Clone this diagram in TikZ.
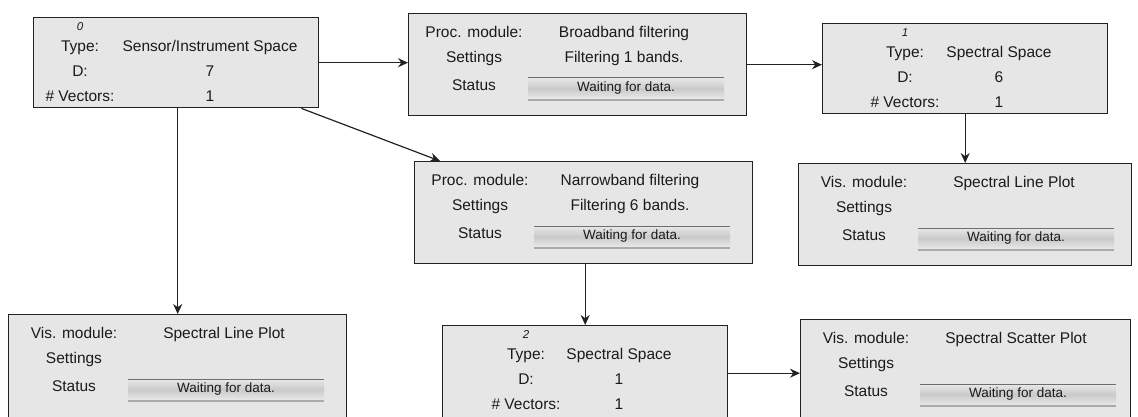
\documentclass[tikz,border=0pt]{standalone}
\usepackage{fontspec}
\setmainfont{Liberation Sans}
\usetikzlibrary{calc, arrows.meta}

\definecolor{boxfill}{HTML}{E6E6E6}
\definecolor{boxline}{HTML}{222222}
\definecolor{ink}{HTML}{1A1A1A}
\definecolor{barlight}{HTML}{E2E2E2}
\definecolor{bardark}{HTML}{CACACA}
\definecolor{bartop}{HTML}{6E6E6E}
\definecolor{barbottom}{HTML}{ABABAB}

\begin{document}
\begin{tikzpicture}[
    x=1pt, y=-1pt,
    flow/.style={->, >={Stealth[length=10pt, width=9pt]}, line width=1.2pt, draw=boxline},
    box/.style={rectangle, draw=boxline, fill=boxfill, line width=1.4pt, anchor=north west, inner sep=0pt},
    lbl/.style={anchor=mid, text=ink, font=\fontsize{15.5}{18}\selectfont, inner sep=0pt},
    idx/.style={lbl, font=\fontsize{11.5}{13}\selectfont\itshape},
    waiting/.style={lbl, font=\fontsize{13.5}{16}\selectfont},
    bar_shade/.style={top color=barlight, bottom color=barlight, middle color=bardark}
]
    \useasboundingbox (0,0) rectangle (1138,417);
    \clip (0,0) rectangle (1138,417);

    % Data spaces
    \foreach \n/\x/\y/\h/\lx/\i/\type/\d in {
        A/33/17/90/47/0/{Sensor/Instrument Space}/7,
        C/822/23/90/83/1/{Spectral Space}/6,
        G/442/325/95/84/2/{Spectral Space}/1} {
        \node[box, minimum width=285, minimum height=\h] (\n) at (\x,\y) {};
        \node[idx] (\n-idx) at ($(\n.north west)+(\lx,11)$) {\i};
        \node[lbl] (\n-type) at ($(\n.north west)+(\lx,32)$) {Type:};
        \node[lbl] (\n-typeval) at ($(\n.north west)+(177,32)$) {\type};
        \node[lbl] (\n-dim) at ($(\n.north west)+(\lx,57)$) {D:};
        \node[lbl] (\n-dimval) at ($(\n.north west)+(177,57)$) {\d};
        \node[lbl] (\n-vec) at ($(\n.north west)+(\lx,82)$) {\# Vectors:};
        \node[lbl] (\n-vecval) at ($(\n.north west)+(177,82)$) {1};
    }

    % Processing and visualisation modules
    \foreach \n/\x/\y/\w/\h/\kind/\name/\set in {
        B/408/13/338/102/Proc. module:/Broadband filtering/Filtering 1 bands.,
        D/414/161/338/102/Proc. module:/Narrowband filtering/Filtering 6 bands.,
        E/798/163/333/102/Vis. module:/Spectral Line Plot/{},
        F/8/314/338/110/Vis. module:/Spectral Line Plot/{},
        H/800/319/330/110/Vis. module:/Spectral Scatter Plot/{}} {
        \node[box, minimum width=\w, minimum height=\h] (\n) at (\x,\y) {};
        \node[lbl] (\n-kind) at ($(\n.north west)+(66,22)$) {\kind};
        \node[lbl] (\n-name) at ($(\n.north west)+(216,22)$) {\name};
        \node[lbl] (\n-set) at ($(\n.north west)+(66,47)$) {Settings};
        \node[lbl] (\n-setval) at ($(\n.north west)+(216,47)$) {\set};
        \node[lbl] (\n-st) at ($(\n.north west)+(66,75)$) {Status};
        % status bar
        \coordinate (\n-bar) at ($(\n.north west)+(120,65)$);
        \shade[bar_shade] ($(\n-bar)+(0,2)$) rectangle ($(\n-bar)+(196,19)$);
        \draw[line width=1pt, draw=bartop] (\n-bar) -- ++(196,0);
        \draw[line width=1.4pt, draw=barbottom] ($(\n-bar)+(0,22)$) -- ++(196,0);
        \node[waiting] (\n-wait) at ($(\n-bar)+(98,11)$) {Waiting for data.};
    }

    % Connections
    \draw[flow] (A.east) -- (B.west |- A.east);
    \draw[flow] (B.east) -- (C.west |- B.east);
    \draw[flow] (C.south -| E.north) -- (E.north);
    \draw[flow] ($(A.south east)+(-18,0)$) -- ($(D.north west)+(26,0)$);
    \draw[flow] (A.south -| F.north) -- (F.north);
    \draw[flow] (D.south -| G.north) -- (G.north);
    \draw[flow] (G.east) -- (H.west |- G.east);

\end{tikzpicture}
\end{document}
